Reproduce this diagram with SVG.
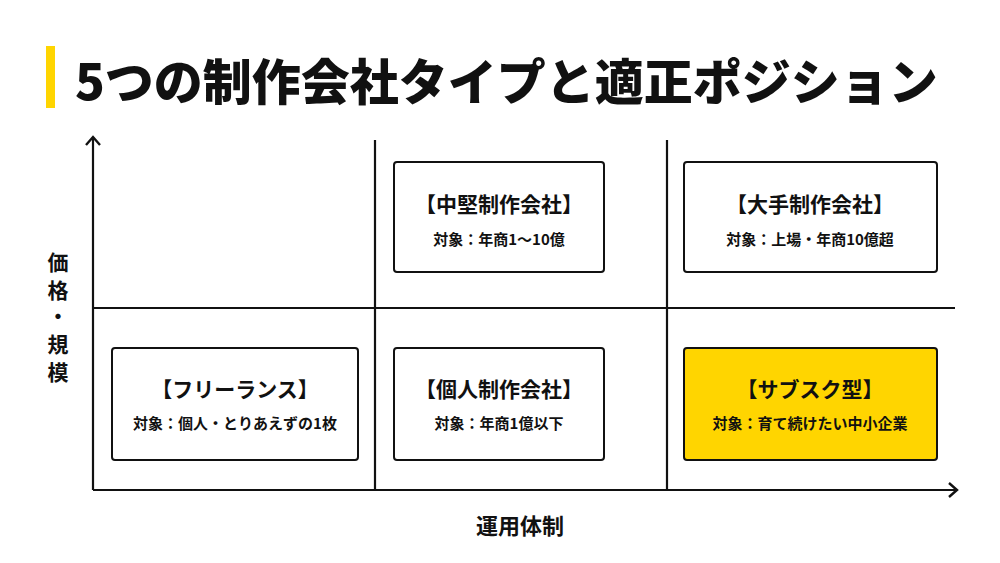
<svg xmlns="http://www.w3.org/2000/svg" width="1000" height="563" viewBox="0 0 1000 563">
<defs>
<style>
text{font-family:"Noto Sans CJK JP","Noto Sans",sans-serif;fill:#111;text-anchor:middle}
.box{fill:#fff;stroke:#111;stroke-width:2}
.hl{fill:#FFD500}
.t{font-size:21px;font-weight:700}
.s{font-size:15px;font-weight:700}
.ln{stroke:#111;stroke-width:2.2;fill:none}
</style>
<marker id="ar" viewBox="0 0 16 16" refX="14" refY="8" markerWidth="16" markerHeight="16" markerUnits="userSpaceOnUse" orient="auto"><path d="M6,1 L14,8 L6,15" fill="none" stroke="#111" stroke-width="2.4"/></marker>
</defs>
<rect width="1000" height="563" fill="#fff"/>
<rect x="46" y="46" width="9" height="62" fill="#FFD500"/>
<text x="75" y="100" style="font-size:49px;font-weight:900;text-anchor:start">5つの制作会社タイプと適正ポジション</text>
<g id="connectors">
<line class="ln" x1="93" y1="490" x2="93" y2="137" marker-end="url(#ar)"/>
<line class="ln" x1="93" y1="490" x2="957" y2="490" marker-end="url(#ar)"/>
<line class="ln" x1="375" y1="140" x2="375" y2="490"/>
<line class="ln" x1="667" y1="140" x2="667" y2="490"/>
<line class="ln" x1="93" y1="308" x2="955" y2="308"/>
</g>
<g style="font-size:21px;font-weight:700">
<text x="58" y="270">価</text><text x="58" y="298">格</text><text x="58" y="324">・</text><text x="58" y="352">規</text><text x="58" y="380">模</text>
</g>
<text x="520" y="534" style="font-size:22px;font-weight:700">運用体制</text>
<g id="n-chuken"><rect class="box" x="394" y="162" width="210" height="110" rx="3"/><text class="t" x="499" y="212">【中堅制作会社】</text><text class="s" x="499" y="245">対象：年商1〜10億</text></g>
<g id="n-ote"><rect class="box" x="684" y="162" width="253" height="110" rx="3"/><text class="t" x="810" y="212">【大手制作会社】</text><text class="s" x="810" y="245">対象：上場・年商10億超</text></g>
<g id="n-free"><rect class="box" x="112" y="348" width="246" height="112" rx="3"/><text class="t" x="235" y="397">【フリーランス】</text><text class="s" x="235" y="429">対象：個人・とりあえずの1枚</text></g>
<g id="n-kojin"><rect class="box" x="394" y="348" width="210" height="112" rx="3"/><text class="t" x="499" y="397">【個人制作会社】</text><text class="s" x="499" y="429">対象：年商1億以下</text></g>
<g id="n-sub"><rect class="box hl" x="684" y="348" width="253" height="112" rx="3"/><text class="t" x="810" y="397">【サブスク型】</text><text class="s" x="810" y="429">対象：育て続けたい中小企業</text></g>
</svg>
